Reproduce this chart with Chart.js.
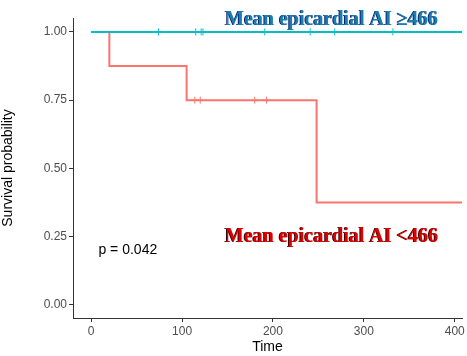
<!DOCTYPE html>
<html>
<head>
<meta charset="utf-8">
<script src="https://cdn.jsdelivr.net/npm/chart.js@4"></script>
<style>
  html, body { margin: 0; padding: 0; background: #fff; }
  #wrap { width: 467px; height: 356px; }
</style>
</head>
<body>
<div id="wrap"><canvas id="chart"></canvas></div>
<script>
// Kaplan-Meier step points (time, survival)
const highTimes = [0, 413];
const highSurv = [1, 1];
const lowTimes = [0, 20, 105, 248, 413];
const lowSurv = [1, 0.875, 0.75, 0.375, 0.375];

// censoring times
const highCensor = [74, 115, 121, 123, 191, 241, 268, 332];
const lowCensor = [114, 120, 180, 193];

const xTicks = [0, 100, 200, 300, 400];
const yTicks = [0, 0.25, 0.5, 0.75, 1];
const yTickLabels = ["0.00", "0.25", "0.50", "0.75", "1.00"];

const highLabel = "Mean epicardial AI \u2265466";
const lowLabel = "Mean epicardial AI <466";
const pText = "p = 0.042";

const RED = "#F8766D";
const CYAN = "#00BFC4";

function toPoints(xs, ys) {
    return xs.map((x, i) => ({ x: x, y: ys[i] }));
}

// survival value at time t from the step arrays
function survAt(times, surv, t) {
    let s = surv[0];
    for (let i = 0; i < times.length; i++) {
        if (times[i] <= t) s = surv[i];
    }
    return s;
}

function censorPoints(cens, times, surv) {
    return cens.map(t => ({ x: t, y: survAt(times, surv, t) }));
}

const labelsPlugin = {
    id: "kmLabels",
    afterDatasetsDraw(chart) {
        const ctx = chart.ctx;
        const xs = chart.scales.x;
        const ys = chart.scales.y;
        ctx.save();
        ctx.textAlign = "center";
        ctx.textBaseline = "middle";
        ctx.font = "bold 20px 'Liberation Serif', 'DejaVu Serif', serif";

        const drawLabel = (txt, tx, ty, col, dark) => {
            const px = xs.getPixelForValue(tx);
            const py = ys.getPixelForValue(ty);
            ctx.fillStyle = dark;
            ctx.fillText(txt, px - 0.5, py);
            ctx.fillStyle = col;
            ctx.fillText(txt, px + 0.5, py);
        };
        drawLabel(highLabel, 264, 1.045, "#1a7fb0", "#0a1f6e");
        drawLabel(lowLabel, 264, 0.25, "#e00000", "#300000");

        ctx.font = "14px 'Liberation Sans', Arial, sans-serif";
        ctx.fillStyle = "#000";
        ctx.textAlign = "left";
        ctx.fillText(pText, xs.getPixelForValue(8), ys.getPixelForValue(0.2));
        ctx.restore();
    }
};

const ctx = document.getElementById("chart").getContext("2d");
new Chart(ctx, {
    type: "scatter",
    data: {
        datasets: [
            {
                type: "line",
                data: toPoints(highTimes, highSurv),
                stepped: "before",
                borderColor: CYAN,
                borderWidth: 2,
                pointRadius: 0,
                fill: false
            },
            {
                type: "line",
                data: toPoints(lowTimes, lowSurv),
                stepped: "before",
                borderColor: RED,
                borderWidth: 2,
                pointRadius: 0,
                fill: false
            },
            {
                data: censorPoints(highCensor, highTimes, highSurv),
                pointStyle: "cross",
                pointRadius: 3.5,
                borderColor: CYAN,
                borderWidth: 1
            },
            {
                data: censorPoints(lowCensor, lowTimes, lowSurv),
                pointStyle: "cross",
                pointRadius: 3.5,
                borderColor: RED,
                borderWidth: 1
            }
        ]
    },
    options: {
        responsive: true,
        maintainAspectRatio: false,
        animation: false,
        layout: { padding: { top: 18, right: 0, left: 0, bottom: 0 } },
        plugins: {
            legend: { display: false },
            tooltip: { enabled: false }
        },
        scales: {
            x: {
                type: "linear",
                min: -20,
                max: 408,
                afterBuildTicks: s => { s.ticks = xTicks.map(v => ({ value: v })); },
                afterFit: s => { s.height = 38; },
                border: { display: true, color: "#333", width: 1 },
                grid: { display: true, drawOnChartArea: false, drawTicks: true, tickLength: 4, color: "#333" },
                ticks: {
                    color: "#4d4d4d",
                    padding: 2,
                    maxRotation: 0,
                    font: { size: 12, family: "'Liberation Sans', Arial, sans-serif" }
                },
                title: {
                    display: true,
                    text: "Time",
                    color: "#000",
                    padding: { top: 0, bottom: 0 },
                    font: { size: 14, family: "'Liberation Sans', Arial, sans-serif" }
                }
            },
            y: {
                type: "linear",
                min: -0.048,
                max: 1.051,
                afterBuildTicks: s => { s.ticks = yTicks.map(v => ({ value: v })); },
                afterFit: s => { s.width = 73; },
                border: { display: true, color: "#333", width: 1 },
                grid: { display: true, drawOnChartArea: false, drawTicks: true, tickLength: 4, color: "#333" },
                ticks: {
                    color: "#4d4d4d",
                    padding: 2,
                    callback: v => yTickLabels[yTicks.indexOf(v)],
                    font: { size: 12, family: "'Liberation Sans', Arial, sans-serif" }
                },
                title: {
                    display: true,
                    text: "Survival probability",
                    color: "#000",
                    padding: { top: 0, bottom: 2 },
                    font: { size: 14, family: "'Liberation Sans', Arial, sans-serif" }
                }
            }
        }
    },
    plugins: [labelsPlugin]
});
</script>
</body>
</html>
